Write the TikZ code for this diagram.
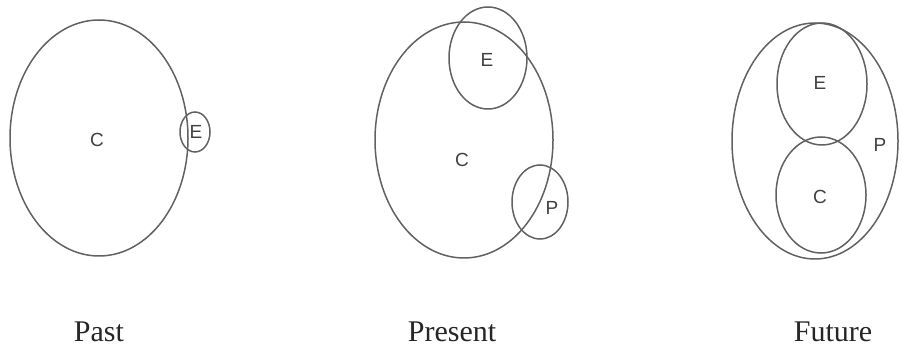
\documentclass[tikz,border=0pt]{standalone}
\usepackage{fontspec}
\setmainfont{Liberation Serif}
\newfontfamily\handfont{Liberation Sans}

\begin{document}
\begin{tikzpicture}[x=1pt,y=-1pt,
    trait/.style={draw=black!62, line width=1.5pt},
    lettre/.style={font=\handfont\fontsize{19}{19}\selectfont, text=black!75, inner sep=0pt},
    titre/.style={font=\fontsize{30}{34}\selectfont, text=black!85, inner sep=0pt}]
    \useasboundingbox (0,0) rectangle (902,347);

    % Passé : grand ovale C, petit E collé au bord
    \draw[trait] (99,138) ellipse (89pt and 118pt);
    \draw[trait] (195,132) ellipse (15pt and 20pt);
    \node[lettre] (pastC) at (97,140) {C};
    \node[lettre] (pastE) at (196,132) {E};
    \node[titre] (past) at (99,332) {Past};

    % Présent : E en haut, P en bas à droite
    \draw[trait] (464,140) ellipse (89pt and 118pt);
    \draw[trait] (488,58) ellipse (39pt and 51pt);
    \draw[trait] (540,202) ellipse (28pt and 37pt);
    \node[lettre] (presC) at (462,160) {C};
    \node[lettre] (presE) at (487,60) {E};
    \node[lettre] (presP) at (552,208) {P};
    \node[titre] (present) at (452,332) {Present};

    % Futur : P englobe E et C
    \draw[trait] (815,141) ellipse (83pt and 118pt);
    \draw[trait] (822,84) ellipse (45pt and 61pt);
    \draw[trait] (821,195) ellipse (45pt and 58pt);
    \node[lettre] (futE) at (820,83) {E};
    \node[lettre] (futC) at (820,197) {C};
    \node[lettre] (futP) at (880,145) {P};
    \node[titre] (future) at (833,332) {Future};
\end{tikzpicture}
\end{document}
